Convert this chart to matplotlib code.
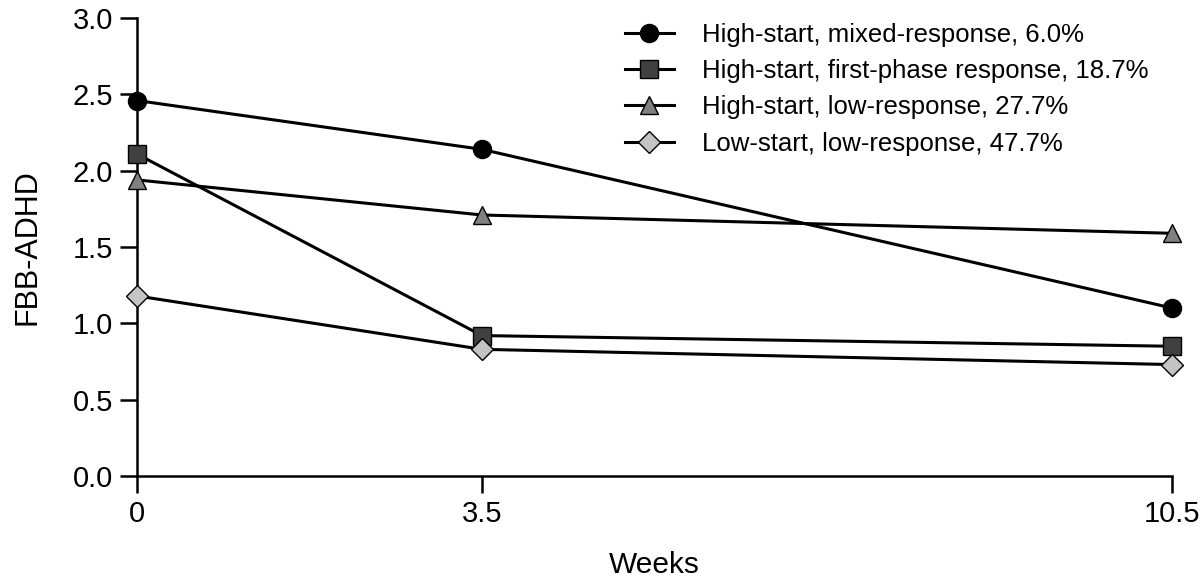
import matplotlib
matplotlib.use("Agg")
import matplotlib.pyplot as plt

# =========================
# Data
# =========================

weeks = [0, 3.5, 10.5]

labels = [
    "High-start, mixed-response, 6.0%",
    "High-start, first-phase response, 18.7%",
    "High-start, low-response, 27.7%",
    "Low-start, low-response, 47.7%",
]

mixed = [2.46, 2.14, 1.10]
first_phase = [2.11, 0.92, 0.85]
high_low = [1.94, 1.71, 1.59]
low_low = [1.18, 0.83, 0.73]

y_ticks = [0.0, 0.5, 1.0, 1.5, 2.0, 2.5, 3.0]

# =========================
# Style
# =========================

plt.rcParams["font.family"] = ["Liberation Sans", "DejaVu Sans"]

series = [mixed, first_phase, high_low, low_low]
markers = ["o", "s", "^", "D"]
faces = ["#000000", "#404040", "#808080", "#c4c4c4"]
sizes = [13, 12.5, 12.5, 11.5]

fig = plt.figure(figsize=(12, 5.83), dpi=100)
ax = fig.add_axes([0.114, 0.1835, 0.863, 0.7855])

for vals, lab, m, fc, ms in zip(series, labels, markers, faces, sizes):
    ax.plot(weeks, vals, color="black", linewidth=2.2, marker=m,
            markersize=ms, markerfacecolor=fc, markeredgecolor="black",
            markeredgewidth=1.0, label=lab, clip_on=False, zorder=3)

ax.set_xlim(0, 10.5)
ax.set_ylim(0, 3.0)
ax.set_xticks(weeks)
ax.set_xticklabels(["0", "3.5", "10.5"])
ax.set_yticks(y_ticks)
ax.set_yticklabels([f"{v:.1f}" for v in y_ticks])

for s in ["top", "right"]:
    ax.spines[s].set_visible(False)
for s in ["left", "bottom"]:
    ax.spines[s].set_linewidth(1.8)

ax.tick_params(direction="out", length=12, width=1.8, labelsize=21, pad=5)

ax.set_xlabel("Weeks", fontsize=21.5, labelpad=17)
ax.set_ylabel("FBB-ADHD", fontsize=22, labelpad=22)

ax.legend(loc="upper left", bbox_to_anchor=(0.4715, 0.99), frameon=False,
          fontsize=18.5, borderpad=0, handlelength=1.9, handletextpad=1.1,
          labelspacing=0.48, borderaxespad=0)

fig.savefig("out.png", dpi=100)
